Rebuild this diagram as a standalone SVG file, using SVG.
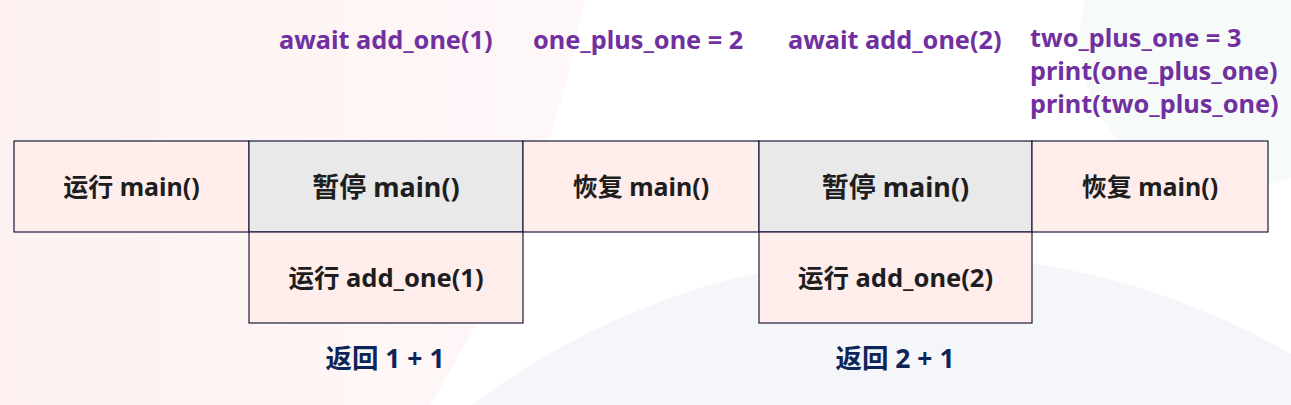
<svg xmlns="http://www.w3.org/2000/svg" width="1291" height="405" viewBox="0 0 1291 405">
<defs>
<style>
.box{stroke:#1c1c3c;stroke-width:1.2}
.pink{fill:#FFEDEC}
.gray{fill:#E9E9E9}
.t{font-family:"Noto Sans","Noto Sans CJK SC",sans-serif;font-weight:bold;fill:#1e1e1e;text-anchor:middle}
.code{font-family:"Noto Sans","Noto Sans CJK SC",sans-serif;font-weight:bold;fill:#7030A0;font-size:25.3px}
.ret{font-family:"Noto Sans","Noto Sans CJK SC",sans-serif;font-weight:bold;fill:#0E2559;font-size:26.5px;text-anchor:middle}
</style>
<linearGradient id="bgl" x1="0" y1="0" x2="1" y2="0">
<stop offset="0" stop-color="#FDF1F1"/>
<stop offset="1" stop-color="#FFF8F8"/>
</linearGradient>
</defs>
<rect width="1291" height="405" fill="#ffffff"/>
<path d="M0 0 H585 C560 120 520 260 430 405 H0 Z" fill="url(#bgl)"/>
<circle cx="1230" cy="40" r="150" fill="#F6FAF9"/>
<circle cx="920" cy="1000" r="745" fill="#F5F6F9"/>
<g id="code-labels">
<text class="code" x="279" y="49">await add_one(1)</text>
<text class="code" x="533" y="49">one_plus_one = 2</text>
<text class="code" x="788" y="49">await add_one(2)</text>
<text class="code" x="1030" y="47" font-size="25">two_plus_one = 3</text>
<text class="code" x="1030" y="80" font-size="25">print(one_plus_one)</text>
<text class="code" x="1030" y="113" font-size="25">print(two_plus_one)</text>
</g>
<g id="n1"><rect class="box pink" x="14" y="141" width="235" height="91"/><text class="t" x="131.5" y="196" font-size="25">运行 main()</text></g>
<g id="n2"><rect class="box gray" x="249" y="141" width="274" height="91"/><text class="t" x="386" y="197" font-size="27">暂停 main()</text></g>
<g id="n3"><rect class="box pink" x="523" y="141" width="236" height="91"/><text class="t" x="641" y="196" font-size="25">恢复 main()</text></g>
<g id="n4"><rect class="box gray" x="759" y="141" width="273" height="91"/><text class="t" x="895.5" y="197" font-size="27">暂停 main()</text></g>
<g id="n5"><rect class="box pink" x="1032" y="141" width="236" height="91"/><text class="t" x="1150" y="196" font-size="25">恢复 main()</text></g>
<g id="n6"><rect class="box pink" x="249" y="232" width="274" height="91"/><text class="t" x="386" y="287" font-size="25.5">运行 add_one(1)</text></g>
<g id="n7"><rect class="box pink" x="759" y="232" width="273" height="91"/><text class="t" x="895.5" y="287" font-size="25.5">运行 add_one(2)</text></g>
<g id="r1"><text class="ret" x="385" y="368">返回 1 + 1</text></g>
<g id="r2"><text class="ret" x="895" y="368">返回 2 + 1</text></g>
<g id="connectors"></g>
</svg>
